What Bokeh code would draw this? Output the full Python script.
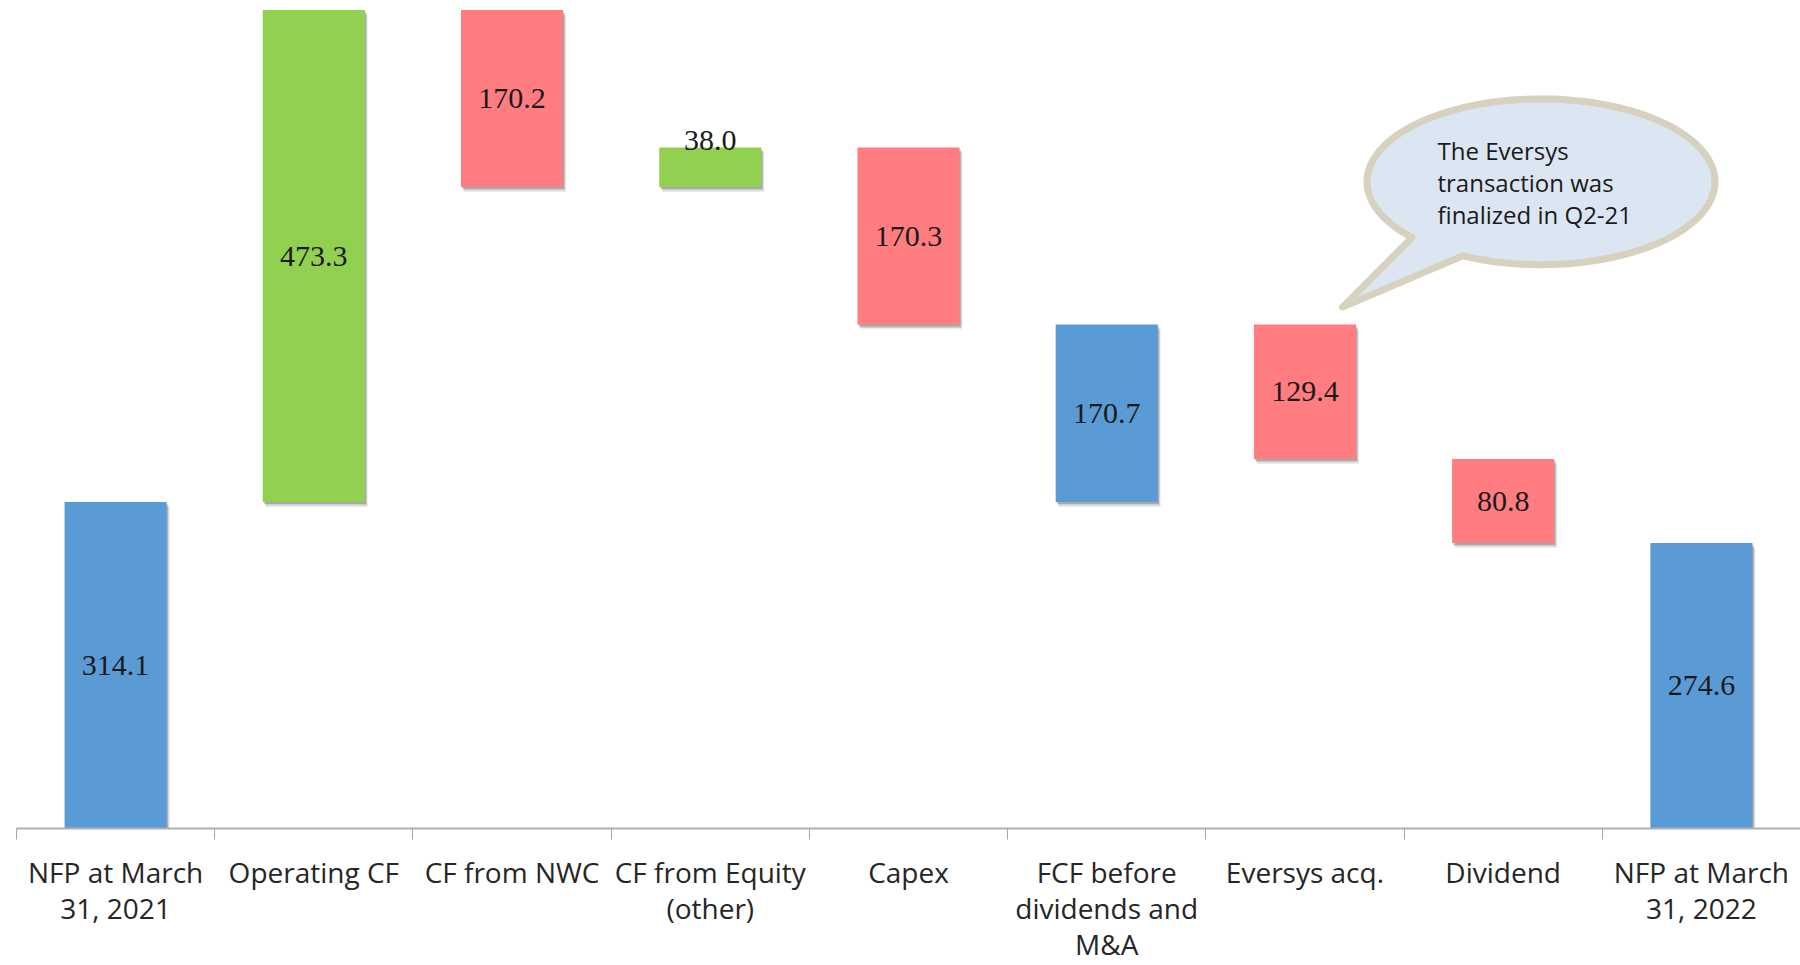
import numpy as np
from bokeh.plotting import figure
from bokeh.models import ColumnDataSource, FixedTicker, Range1d
from bokeh.core.properties import value
from bokeh.embed import file_html
from bokeh.resources import INLINE

# ---------------- data ----------------
categories = [
    "NFP at March\n31, 2021",
    "Operating CF",
    "CF from NWC",
    "CF from Equity\n(other)",
    "Capex",
    "FCF before\ndividends and\nM&A",
    "Eversys acq.",
    "Dividend",
    "NFP at March\n31, 2022",
]
values = [314.1, 473.3, -170.2, 38.0, -170.3, 170.7, -129.4, -80.8, 274.6]
kinds = ["total", "delta", "delta", "delta", "delta", "subtotal", "delta", "delta", "total"]
callout_lines = ["The Eversys", "transaction was", "finalized in Q2-21"]

# ---------------- layout constants ----------------
FIG_W, FIG_H = 1800, 965
BORDER_L, BORDER_T, BORDER_B = 16, 9, 136
FRAME_W, FRAME_H = FIG_W - BORDER_L, FIG_H - BORDER_T - BORDER_B
Y_MAX = 788.0
N = len(categories)
PXX = FRAME_W / N          # pixels per x unit
PXY = FRAME_H / Y_MAX      # pixels per y unit
BAR_W = 0.515

BLUE, GREEN, RED = "#5B9BD5", "#92D050", "#FF7C80"

# ---------------- waterfall geometry ----------------
bottoms, tops, colors = [], [], []
level = 0.0
for v, k in zip(values, kinds):
    if k == "total":
        b, t = 0.0, v
        level = v
        c = BLUE
    elif k == "subtotal":
        b, t = level - v, level
        c = BLUE
    else:
        b, t = sorted([level, level + v])
        level += v
        c = GREEN if v > 0 else RED
    bottoms.append(b)
    tops.append(t)
    colors.append(c)

xc = np.arange(N) + 0.5
labels = ["%.1f" % abs(v) for v in values]
heights_px = [(t - b) * PXY for b, t in zip(bottoms, tops)]

src = ColumnDataSource(dict(
    x=xc, left=xc - BAR_W / 2, right=xc + BAR_W / 2,
    bottom=bottoms, top=tops, color=colors, label=labels,
    mid=[(b + t) / 2 for b, t in zip(bottoms, tops)],
))

p = figure(
    width=FIG_W, height=FIG_H,
    x_range=Range1d(0, N), y_range=Range1d(0, Y_MAX),
    output_backend="svg", toolbar_location=None,
    min_border_left=BORDER_L, min_border_right=0, min_border_top=BORDER_T,
    min_border_bottom=BORDER_B,
)
p.outline_line_color = None
p.xgrid.visible = False
p.ygrid.visible = False
p.yaxis.visible = False
p.background_fill_color = "white"
p.border_fill_color = "white"

# shadows
for off, alpha in [(5, 0.08), (3.5, 0.12), (2, 0.18)]:
    dx = off * 0.6 / PXX
    dy = off / PXY
    p.quad(left=[l + dx for l in src.data["left"]], right=[r + dx for r in src.data["right"]],
           bottom=[b - dy for b in bottoms], top=[t - dy for t in tops],
           fill_color="black", fill_alpha=alpha, line_color=None)

p.quad(left="left", right="right", bottom="bottom", top="top", source=src,
       fill_color="color", line_color=None)

# value labels
big = [i for i in range(N) if heights_px[i] >= 50]
small = [i for i in range(N) if heights_px[i] < 50]
p.text(x=[xc[i] for i in big], y=[src.data["mid"][i] for i in big],
       text=[labels[i] for i in big], text_font=value("Liberation Serif"),
       text_font_size="30px", text_color="#1a1a1a",
       text_align="center", text_baseline="middle")
p.text(x=[xc[i] for i in small], y=[tops[i] for i in small],
       text=[labels[i] for i in small], text_font=value("Liberation Serif"),
       text_font_size="30px", text_color="#1a1a1a",
       text_align="center", text_baseline="alphabetic", y_offset=-7)

# x axis
ax = p.xaxis[0]
ax.ticker = FixedTicker(ticks=list(xc), minor_ticks=list(range(N + 1)))
ax.major_label_overrides = {float(x): c for x, c in zip(xc, categories)}
ax.major_tick_line_color = None
ax.major_tick_out = 0
ax.major_tick_in = 0
ax.minor_tick_out = 11
ax.minor_tick_in = 0
ax.minor_tick_line_color = "#A6A6A6"
ax.minor_tick_line_width = 1
ax.axis_line_color = "#AFAFAF"
ax.axis_line_width = 2
ax.major_label_text_font = "Open Sans"
ax.major_label_text_font_size = "28px"
ax.major_label_text_color = "#262626"
ax.major_label_text_line_height = 0.95
ax.major_label_standoff = 13

# callout (speech bubble) built in page-pixel space, mapped to data space
X0, Y0 = BORDER_L, BORDER_T + FRAME_H   # page position of data (0, 0)

def to_data(px, py):
    return (px - X0) / PXX, (Y0 - py) / PXY

cx, cy, a, b = 1540.5, 181.5, 174.0, 83.0
t0 = np.deg2rad(116.7)
t1 = np.deg2rad(137.8 - 360)
ts = np.linspace(t0, t1, 200)
bx = list(cx + a * np.cos(ts)) + [1342]
by = list(cy + b * np.sin(ts)) + [307]
dxs, dys = zip(*[to_data(x, y) for x, y in zip(bx, by)])
p.patch(list(dxs), list(dys), fill_color="#DCE6F2", line_color="#D7D1BF",
        line_width=7, line_join="round")

tx, _ = to_data(1437, 0)
tys = [to_data(0, yy)[1] for yy in (150, 182, 214)]
p.text(x=[tx] * 3, y=tys, text=callout_lines, text_font=value("Open Sans"),
       text_font_size="24px", text_color="#1a1a1a",
       text_align="left", text_baseline="alphabetic")

open("out.html", "w").write(file_html(p, INLINE))
